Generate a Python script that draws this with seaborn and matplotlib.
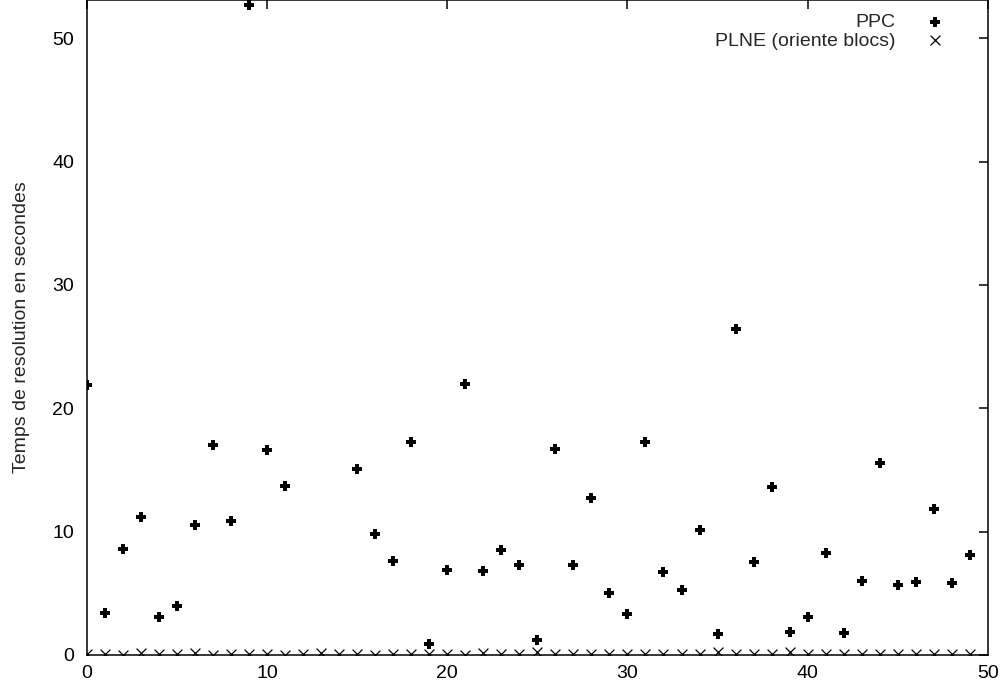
import numpy as np
import pandas as pd
import matplotlib
matplotlib.use("Agg")
import matplotlib.pyplot as plt
import seaborn as sns

instances = list(range(50))
ppc = [21.9, 3.4, 8.6, 11.2, 3.1, 4.0, 10.5, 17.0, 10.9, 52.7,
       16.6, 13.7, np.nan, np.nan, np.nan, 15.1, 9.8, 7.6, 17.3, 0.9,
       6.9, 22.0, 6.8, 8.5, 7.3, 1.2, 16.7, 7.3, 12.7, 5.0,
       3.3, 17.3, 6.7, 5.3, 10.1, 1.7, 26.4, 7.5, 13.6, 1.9,
       3.1, 8.3, 1.8, 6.0, 15.6, 5.7, 5.9, 11.8, 5.8, 8.1]
plne = [0.1, 0.1, 0.03, 0.2, 0.05, 0.1, 0.15, 0.03, 0.05, 0.1,
        0.1, 0.03, 0.1, 0.2, 0.1, 0.05, 0.03, 0.05, 0.05, 0.05,
        0.1, 0.03, 0.2, 0.05, 0.05, 0.25, 0.05, 0.05, 0.05, 0.05,
        0.1, 0.05, 0.05, 0.05, 0.05, 0.25, 0.05, 0.05, 0.05, 0.25,
        0.1, 0.05, 0.05, 0.05, 0.05, 0.05, 0.05, 0.05, 0.05, 0.05]
labels = ["PPC", "PLNE (oriente blocs)"]
ylabel = "Temps de resolution en secondes"
xticks = [0, 10, 20, 30, 40, 50]
yticks = [0, 10, 20, 30, 40, 50]

df = pd.DataFrame({"instance": instances, "ppc": ppc, "plne": plne})

sns.set_style("white")
plt.rcParams["font.family"] = ["Liberation Sans", "DejaVu Sans"]

fig = plt.figure(figsize=(10.03, 6.87), dpi=100)
ax = fig.add_axes([0.0864, 0.0466, 0.8986, 0.9534])

sns.scatterplot(data=df, x="instance", y="ppc", marker="P", s=50,
                color="black", linewidth=0, label=labels[0], ax=ax)
sns.scatterplot(data=df, x="instance", y="plne", marker="x", s=50,
                color="black", linewidth=0.9, label=labels[1], ax=ax)

ax.set_xlim(0, 50)
ax.set_ylim(0, 53.1)
ax.set_xticks(xticks)
ax.set_yticks(yticks)
ax.set_xlabel("")
ax.set_ylabel(ylabel, fontsize=14, labelpad=16)
ax.tick_params(axis="both", direction="in", length=6.5, width=1.1,
               top=True, right=True, labelsize=14, colors="black")
ax.tick_params(axis="x", pad=7)
ax.tick_params(axis="y", pad=9)
for sp in ax.spines.values():
    sp.set_visible(True)
    sp.set_linewidth(1.1)
    sp.set_color("black")

ax.legend(loc="upper right", bbox_to_anchor=(0.969, 1.006),
          bbox_transform=fig.transFigure, frameon=False, markerfirst=False,
          fontsize=14, handletextpad=1.05, labelspacing=0.05, borderpad=0.4)

fig.savefig("out.png", dpi=100)
